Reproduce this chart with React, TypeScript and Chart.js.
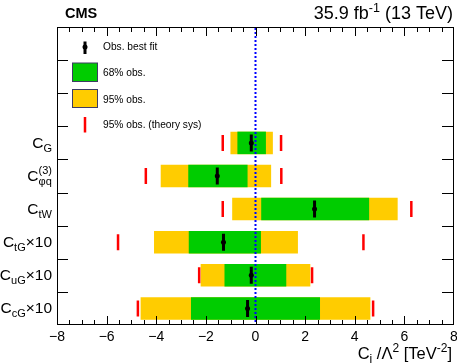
import React, { useEffect, useRef } from 'react';
import { Chart, registerables } from 'chart.js';

Chart.register(...registerables);

// ---- data ----
const legendSlots = ['slot-a', 'slot-b', 'slot-c'];
const params = ['C_G', 'C_phiq3', 'C_tW', 'C_tG', 'C_uG', 'C_cG'];
const bestFit = [-0.17, -1.54, 2.38, -1.29, -0.17, -0.32];
const lo68 = [-0.73, -2.71, 0.23, -2.69, -1.25, -2.6];
const hi68 = [0.42, -0.32, 4.58, 0.22, 1.24, 2.6];
const lo95 = [-1.01, -3.82, -0.94, -4.09, -2.21, -4.63];
const hi95 = [0.7, 0.63, 5.73, 1.71, 2.21, 4.63];
const loTheory = [-1.32, -4.42, -1.32, -5.54, -2.27, -4.74];
const hiTheory = [1.03, 1.04, 6.28, 4.35, 2.28, 4.74];
const xTickValues = [-8, -6, -4, -2, 0, 2, 4, 6, 8];
const xMinorStep = 0.5;

type Part = { t: string; k: 'n' | 'sub' | 'sup' | 'subsup'; sup?: string };
const paramLabels: Part[][] = [
  [{ t: 'C', k: 'n' }, { t: 'G', k: 'sub' }],
  [{ t: 'C', k: 'n' }, { t: 'φq', k: 'subsup', sup: '(3)' }],
  [{ t: 'C', k: 'n' }, { t: 'tW', k: 'sub' }],
  [{ t: 'C', k: 'n' }, { t: 'tG', k: 'sub' }, { t: '×10', k: 'n' }],
  [{ t: 'C', k: 'n' }, { t: 'uG', k: 'sub' }, { t: '×10', k: 'n' }],
  [{ t: 'C', k: 'n' }, { t: 'cG', k: 'sub' }, { t: '×10', k: 'n' }],
];
const xTitle: Part[] = [
  { t: 'C', k: 'n' }, { t: 'i', k: 'sub' }, { t: ' /Λ', k: 'n' }, { t: '2', k: 'sup' },
  { t: ' [TeV', k: 'n' }, { t: '-2', k: 'sup' }, { t: ']', k: 'n' },
];
const lumiText: Part[] = [
  { t: '35.9 fb', k: 'n' }, { t: '-1', k: 'sup' }, { t: ' (13 TeV)', k: 'n' },
];
const legendEntries = ['Obs. best fit', '68% obs.', '95% obs.', '95% obs. (theory sys)'];

const FAM = '"Liberation Sans", Arial, Helvetica, sans-serif';
const GREEN = '#00cc00';
const YELLOW = '#ffcc00';
const RED = '#ff0000';

function drawRich(
  ctx: CanvasRenderingContext2D, parts: Part[], x: number, y: number, align: 'left' | 'right',
  main: number, small: number, subDy: number, supDy: number,
) {
  const fMain = `${main}px ${FAM}`;
  const fSmall = `${small}px ${FAM}`;
  const widths = parts.map((p) => {
    if (p.k === 'n') { ctx.font = fMain; return ctx.measureText(p.t).width; }
    ctx.font = fSmall;
    if (p.k === 'subsup') return Math.max(ctx.measureText(p.t).width, ctx.measureText(p.sup || '').width);
    return ctx.measureText(p.t).width;
  });
  const total = widths.reduce((a, b) => a + b, 0);
  let cx = align === 'right' ? x - total : x;
  ctx.textAlign = 'left';
  ctx.textBaseline = 'alphabetic';
  parts.forEach((p, i) => {
    if (p.k === 'n') { ctx.font = fMain; ctx.fillText(p.t, cx, y); }
    else if (p.k === 'sub') { ctx.font = fSmall; ctx.fillText(p.t, cx, y + subDy); }
    else if (p.k === 'sup') { ctx.font = fSmall; ctx.fillText(p.t, cx, y + supDy); }
    else if (p.k === 'subsup') {
      ctx.font = fSmall;
      ctx.fillText(p.t, cx, y + subDy);
      ctx.fillText(p.sup || '', cx, y + supDy);
    }
    cx += widths[i];
  });
}

const decor = {
  id: 'decor',
  afterDatasetsDraw(chart: any) {
    const { ctx, chartArea } = chart;
    const xs = chart.scales.x;
    const ys = chart.scales.y;
    const { left, right, top, bottom } = chartArea;
    ctx.save();

    // zero line
    const x0 = xs.getPixelForValue(0);
    ctx.strokeStyle = '#0000ff';
    ctx.lineWidth = 2;
    ctx.setLineDash([2, 2]);
    ctx.beginPath();
    ctx.moveTo(x0, top + 1);
    ctx.lineTo(x0, bottom);
    ctx.stroke();
    ctx.setLineDash([]);

    // frame
    ctx.strokeStyle = '#000';
    ctx.lineWidth = 1;
    ctx.strokeRect(left + 0.5, top + 0.5, right - left - 1, bottom - top - 1);

    // x ticks (bottom and top)
    ctx.beginPath();
    const xMin = xTickValues[0];
    const xMax = xTickValues[xTickValues.length - 1];
    const nMinor = Math.round((xMax - xMin) / xMinorStep);
    for (let k = 1; k < nMinor; k++) {
      const v = xMin + k * xMinorStep;
      const major = xTickValues.includes(v);
      const len = major ? 9 : 5;
      const px = Math.round(xs.getPixelForValue(v)) + 0.5;
      ctx.moveTo(px, bottom);
      ctx.lineTo(px, bottom - len);
      ctx.moveTo(px, top);
      ctx.lineTo(px, top + len);
    }
    // y ticks at bin boundaries
    const labels = chart.data.labels as string[];
    for (let i = 0; i < labels.length - 1; i++) {
      const py = Math.round((ys.getPixelForValue(i) + ys.getPixelForValue(i + 1)) / 2) + 0.5;
      ctx.moveTo(left, py);
      ctx.lineTo(left + 11, py);
      ctx.moveTo(right, py);
      ctx.lineTo(right - 12, py);
    }
    ctx.stroke();

    ctx.fillStyle = '#000';
    // x tick labels
    ctx.font = `14px ${FAM}`;
    ctx.textAlign = 'center';
    ctx.textBaseline = 'alphabetic';
    xTickValues.forEach((v) => {
      ctx.fillText(String(v).replace('-', '\u2212'), xs.getPixelForValue(v), bottom + 16);
    });

    // y labels
    params.forEach((p, i) => {
      const py = ys.getPixelForValue(p);
      drawRich(ctx, paramLabels[i], 52, py + 5, 'right', 15.5, 11, 4, -7.5);
    });

    // x title
    drawRich(ctx, xTitle, 452, 359, 'right', 16.5, 12, 4, -7);

    // header
    ctx.font = `bold 14.5px ${FAM}`;
    ctx.textAlign = 'left';
    ctx.fillText('CMS', 65, 18);
    drawRich(ctx, lumiText, 453, 18.5, 'right', 18, 12.5, 4, -7);

    // legend
    const lx = 85;
    ctx.fillStyle = '#000';
    ctx.fillRect(lx - 1.5, 41.5, 3, 12.5);
    ctx.beginPath();
    ctx.arc(lx, 47, 2.5, 0, Math.PI * 2);
    ctx.fill();
    ctx.fillStyle = GREEN;
    ctx.fillRect(72.5, 63, 25, 18.5);
    ctx.strokeStyle = '#3c3c64';
    ctx.strokeRect(72.5, 63, 25, 18.5);
    ctx.fillStyle = YELLOW;
    ctx.fillRect(72.5, 89.5, 25, 18);
    ctx.strokeRect(72.5, 89.5, 25, 18);
    ctx.fillStyle = RED;
    ctx.fillRect(lx - 1.25, 117, 2.5, 15.5);

    ctx.fillStyle = '#000';
    ctx.font = `10.2px ${FAM}`;
    ctx.textAlign = 'left';
    const ly = [49.5, 76, 102.7, 128.3];
    legendEntries.forEach((t, i) => ctx.fillText(t, 103, ly[i]));

    ctx.restore();
  },
};

export default function App() {
  const ref = useRef<HTMLCanvasElement | null>(null);
  useEffect(() => {
    if (!ref.current) return;
    const pts = params.map((p, i) => ({ x: bestFit[i], y: p }));
    const theory = params.flatMap((p, i) => [{ x: loTheory[i], y: p }, { x: hiTheory[i], y: p }]);
    const chart = new Chart(ref.current, {
      type: 'bar',
      data: {
        labels: [...legendSlots, ...params],
        datasets: [
          {
            type: 'scatter', label: 'Obs. best fit dot', data: pts,
            pointStyle: 'circle', pointRadius: 2.5, pointBackgroundColor: '#000', pointBorderWidth: 0,
          } as any,
          {
            type: 'scatter', label: 'Obs. best fit', data: pts,
            pointStyle: 'line', pointRotation: 90, pointRadius: 8.5, pointBorderColor: '#000', pointBorderWidth: 3,
          } as any,
          {
            type: 'scatter', label: '95% obs. (theory sys)', data: theory,
            pointStyle: 'line', pointRotation: 90, pointRadius: 8, pointBorderColor: RED, pointBorderWidth: 2.5,
          } as any,
          {
            type: 'bar', label: '68% obs.', data: params.map((p, i) => ({ x: [lo68[i], hi68[i]], y: p })),
            backgroundColor: GREEN, borderWidth: 0, grouped: false, barPercentage: 0.68, categoryPercentage: 1,
          } as any,
          {
            type: 'bar', label: '95% obs.', data: params.map((p, i) => ({ x: [lo95[i], hi95[i]], y: p })),
            backgroundColor: YELLOW, borderWidth: 0, grouped: false, barPercentage: 0.68, categoryPercentage: 1,
          } as any,
        ],
      },
      options: {
        indexAxis: 'y',
        responsive: false,
        maintainAspectRatio: false,
        animation: false,
        events: [],
        layout: { autoPadding: false, padding: { left: 57, right: 3, top: 27, bottom: 38 } },
        scales: {
          x: { type: 'linear', min: -8, max: 8, display: false },
          y: { type: 'category', offset: true, display: false },
        },
        plugins: { legend: { display: false }, tooltip: { enabled: false } },
      } as any,
      plugins: [decor],
    });
    return () => chart.destroy();
  }, []);
  return (
    <div style={{ position: 'fixed', left: 0, top: 0, width: 457, height: 363, background: '#fff' }}>
      <canvas ref={ref} width={457} height={363} style={{ width: 457, height: 363, display: 'block' }} />
    </div>
  );
}
